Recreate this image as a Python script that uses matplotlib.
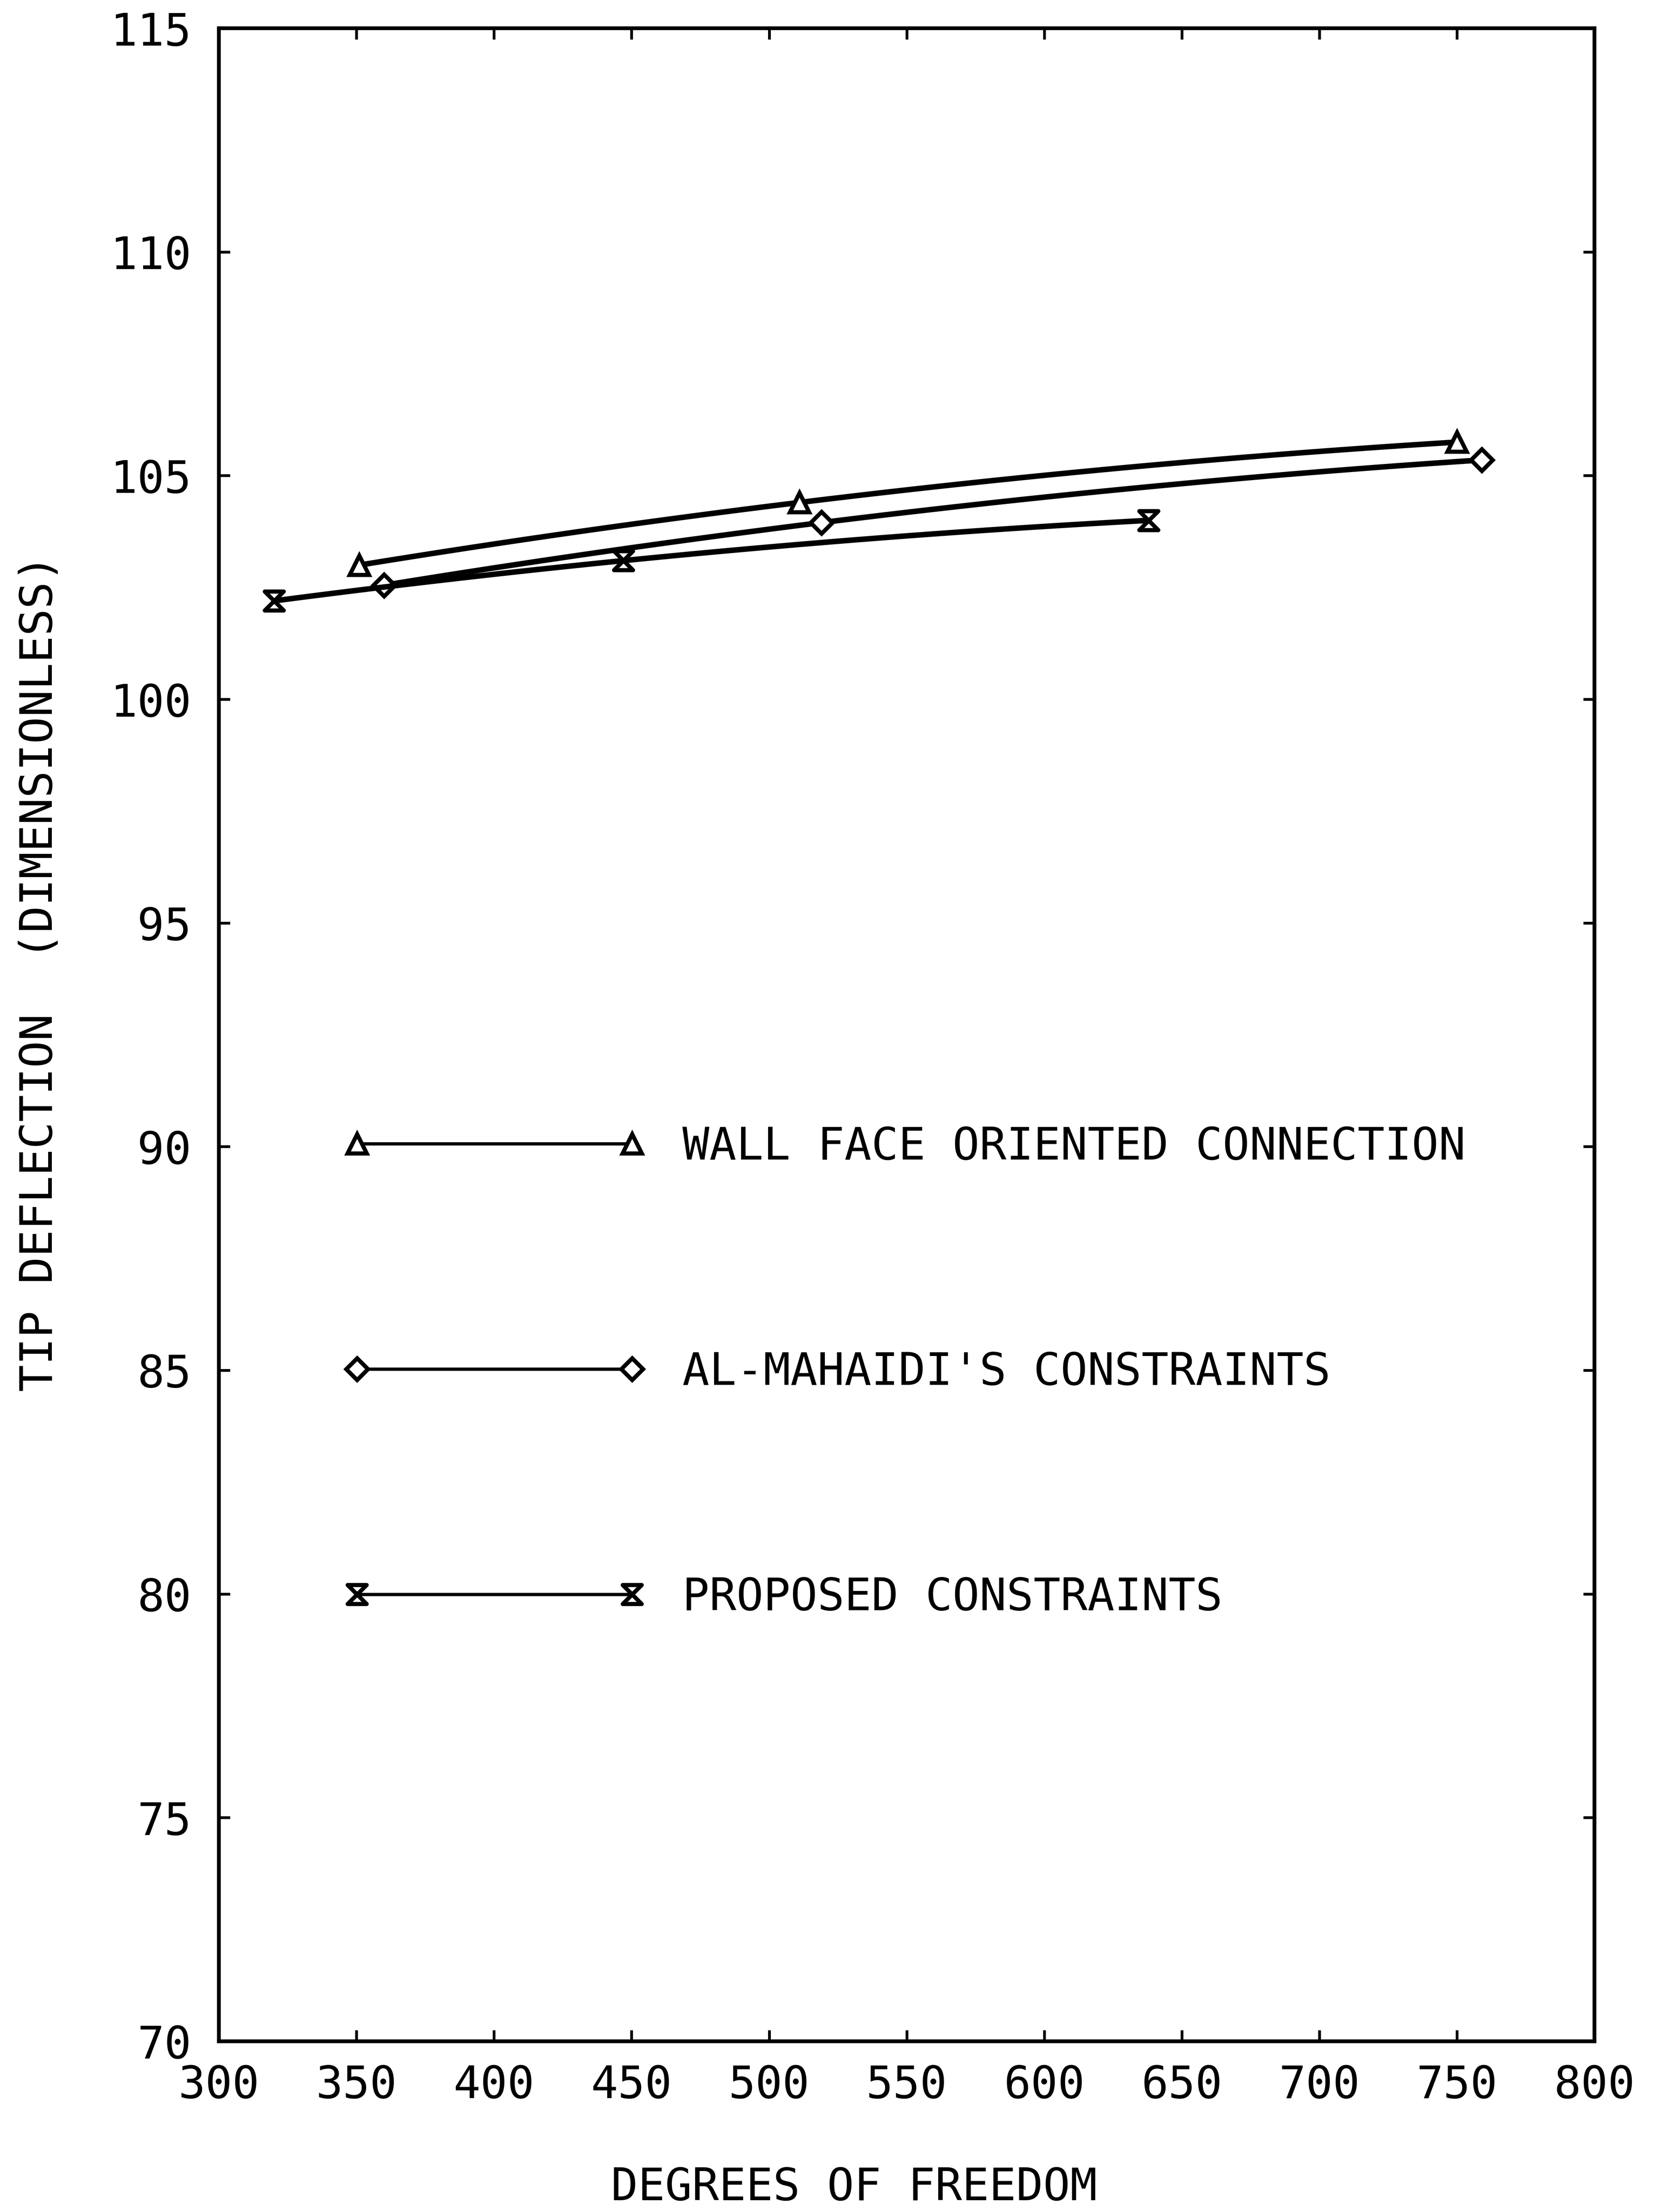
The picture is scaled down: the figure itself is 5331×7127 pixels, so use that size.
import numpy as np
import matplotlib
matplotlib.use('Agg')
from matplotlib import pyplot as plt
from matplotlib.path import Path
from matplotlib.lines import Line2D

# values
wall_dof = [351, 511, 750]
wall_defl = [103.0, 104.4, 105.75]

mahaidi_dof = [360, 519, 759]
mahaidi_defl = [102.55, 103.95, 105.35]

proposed_dof = [320, 447, 638]
proposed_defl = [102.2, 103.1, 104.0]

labels = ['WALL FACE ORIENTED CONNECTION', "AL-MAHAIDI'S CONSTRAINTS", 'PROPOSED CONSTRAINTS']
x_ticks = list(range(300, 801, 50))
y_ticks = list(range(70, 116, 5))

plt.rcParams['font.family'] = ['DejaVu Sans Mono']
FS = 26

# hourglass marker (two triangles tip to tip)
hourglass = Path([(-1, 1), (1, 1), (-1, -1), (1, -1), (-1, 1)],
                 [Path.MOVETO, Path.LINETO, Path.LINETO, Path.LINETO, Path.CLOSEPOLY])
markers = ['^', 'D', hourglass]
msizes = [11, 9, 11]

fig = plt.figure(figsize=(5331 / 400, 7127 / 400), dpi=400)
ax = fig.add_axes([0.1323, 0.0772, 0.8311, 0.9100])

series = [(wall_dof, wall_defl), (mahaidi_dof, mahaidi_defl), (proposed_dof, proposed_defl)]
handles = []
for (xs, ys), mk, ms, lab in zip(series, markers, msizes, labels):
    # smooth curve through the three points, like the plotter did
    coef = np.polyfit(xs, ys, 2)
    xx = np.linspace(xs[0], xs[-1], 200)
    ax.plot(xx, np.polyval(coef, xx), color='black', lw=3.2, solid_capstyle='round')
    ax.plot(xs, ys, linestyle='none', marker=mk, markersize=ms, markerfacecolor='white',
            markeredgecolor='black', markeredgewidth=2.4)
    handles.append(Line2D([], [], color='black', lw=1.9, marker=mk, markersize=ms,
                          markerfacecolor='white', markeredgecolor='black', markeredgewidth=2.4,
                          label=lab))

ax.legend(handles=handles, loc='upper left', bbox_to_anchor=(0.0905, 0.4552),
          frameon=False, numpoints=2, handlelength=6.74, handletextpad=0.82,
          labelspacing=4.05, borderpad=0, borderaxespad=0, fontsize=FS)

ax.set_xlim(300, 800)
ax.set_ylim(70, 115)
ax.set_xticks(x_ticks)
ax.set_yticks(y_ticks)
ax.tick_params(axis='both', direction='in', length=6.5, width=1.6, labelsize=FS,
               top=True, right=True)
ax.tick_params(axis='x', pad=13)
ax.tick_params(axis='y', pad=16)
for sp in ax.spines.values():
    sp.set_linewidth(2.2)

fig.text(0.024, 0.56, 'TIP DEFLECTION  (DIMENSIONLESS)', rotation=90, ha='center', va='center',
         fontsize=FS)
fig.text(0.516, 0.011, 'DEGREES OF FREEDOM', ha='center', va='center', fontsize=FS)

fig.savefig('out.png', dpi=400)
